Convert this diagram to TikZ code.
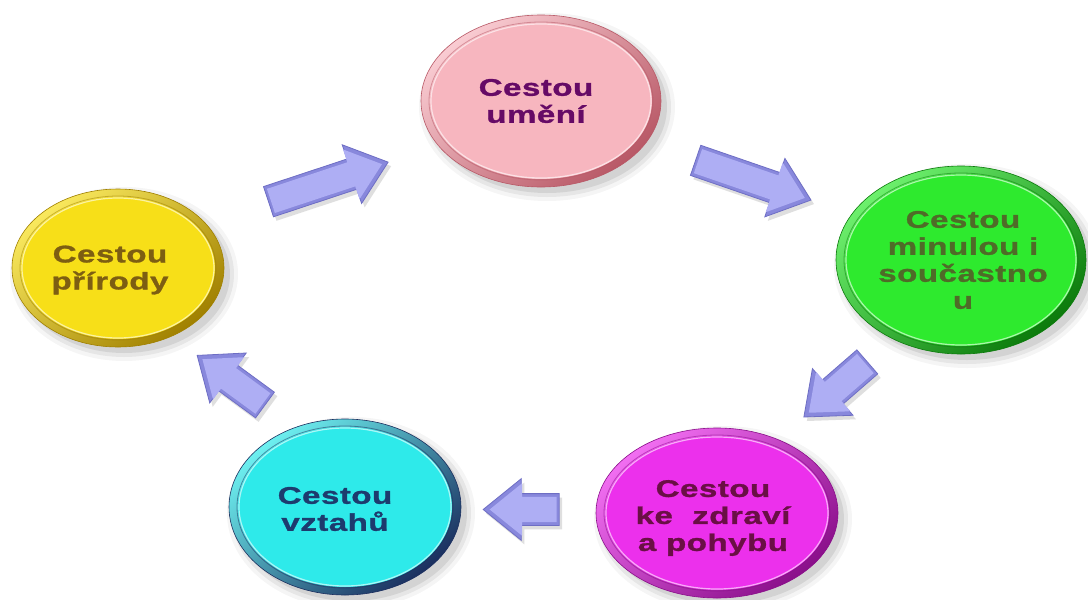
\documentclass[tikz,border=0pt]{standalone}
\usepackage{fontspec}
\setmainfont{Liberation Sans}[FakeStretch=1.38, LetterSpace=2, BoldFeatures={FakeBold=1.2}]
\usetikzlibrary{shapes.arrows,shadows}
\definecolor{arrfill}{HTML}{AEAEF4}
\definecolor{arrdark}{HTML}{8888DC}
\definecolor{arredge}{HTML}{6E6EC4}
\definecolor{pinkm}{HTML}{F7B6BF}
\definecolor{pinkd}{HTML}{B85866}
\definecolor{pinkt}{HTML}{660A66}
\definecolor{yelm}{HTML}{F7DF18}
\definecolor{yeld}{HTML}{A08000}
\definecolor{yelt}{HTML}{7D5E12}
\definecolor{grnm}{HTML}{2EEA2E}
\definecolor{grnd}{HTML}{0B7A0B}
\definecolor{grnt}{HTML}{4F6B28}
\definecolor{magm}{HTML}{EC30EC}
\definecolor{magd}{HTML}{8A0F8A}
\definecolor{magt}{HTML}{6A0F45}
\definecolor{cyam}{HTML}{2EEAEA}
\definecolor{cyad}{HTML}{1B2F5F}
\definecolor{cyat}{HTML}{1D3B6E}
\newcommand\bubble[6]{%
  \foreach \k/\o in {12/0.04,8/0.06,4/0.08}{
    \fill[black, opacity=\o] (#1+6,#2+6) ellipse [x radius=#3+\k-4, y radius=#4+\k-4];
  }
  \shade[top color=#5!70!white, bottom color=#6, shading angle=40] (#1,#2) ellipse [x radius=#3, y radius=#4];
  \draw[#6, line width=0.6pt] (#1,#2) ellipse [x radius=#3, y radius=#4];
  \fill[#5] (#1,#2) ellipse [x radius=#3-9, y radius=#4-8];
  \draw[#6, opacity=0.5, line width=0.8pt] (#1,#2) ellipse [x radius=#3-8, y radius=#4-7];
  \draw[white, opacity=0.6, line width=1.2pt] (#1,#2) ellipse [x radius=#3-10, y radius=#4-9];
}
\tikzset{
  lbl/.style={align=center, font=\bfseries\fontsize{24}{27}\selectfont, inner sep=0pt},
  arrbase/.style={single arrow, inner xsep=0pt, text height=0pt, text depth=0pt, single arrow tip angle=78, outer sep=0pt},
  arrout/.style={arrbase, inner ysep=15.5pt, single arrow head extend=15pt, minimum height=#1, fill=arrdark, draw=arredge, line width=0.8pt, drop shadow={opacity=0.25, shadow xshift=3pt, shadow yshift=-4pt}},
  arrin/.style={arrbase, inner ysep=12.5pt, single arrow head extend=13.5pt, minimum height=#1-9, fill=arrfill}
}
\begin{document}
\begin{tikzpicture}[x=1pt, y=-1pt]
\fill[white] (0,0) rectangle (1088,600);
\useasboundingbox (0,0) rectangle (1088,600);
% bubbles
\bubble{541}{101}{120}{86}{pinkm}{pinkd}
\bubble{118}{268}{106}{79}{yelm}{yeld}
\bubble{961}{260}{125}{94}{grnm}{grnd}
\bubble{717}{513}{121}{85}{magm}{magd}
\bubble{345}{507}{116}{88}{cyam}{cyad}
% labels
\node[lbl, text=pinkt] (art) at (536,101) {Cestou\\umění};
\node[lbl, text=yelt] (nature) at (110,270) {Cestou\\přírody};
\node[lbl, text=grnt] (past) at (963,260) {Cestou\\minulou i\\součastno\\u};
\node[lbl, text=magt] (health) at (713,518) {Cestou\\ke\ \ zdraví\\a pohybu};
\node[lbl, text=cyat] (rel) at (335,509) {Cestou\\vztahů};
% arrows
\node[arrout=126, rotate=18.3] (a1) at (319,185) {};
\node[arrin=126, rotate=18.3] at (a1.center) {};
\node[arrout=122, rotate=-19] (a2) at (744,177) {};
\node[arrin=122, rotate=-19] at (a2.center) {};
\node[arrout=84, rotate=-139] (a3) at (843,383) {};
\node[arrin=84, rotate=-139] at (a3.center) {};
\node[arrout=76, rotate=180] (a4) at (531,509.5) {};
\node[arrin=76, rotate=180] at (a4.center) {};
\node[arrout=84, rotate=143.8] (a5) at (239,386) {};
\node[arrin=84, rotate=143.8] at (a5.center) {};
\end{tikzpicture}
\end{document}
